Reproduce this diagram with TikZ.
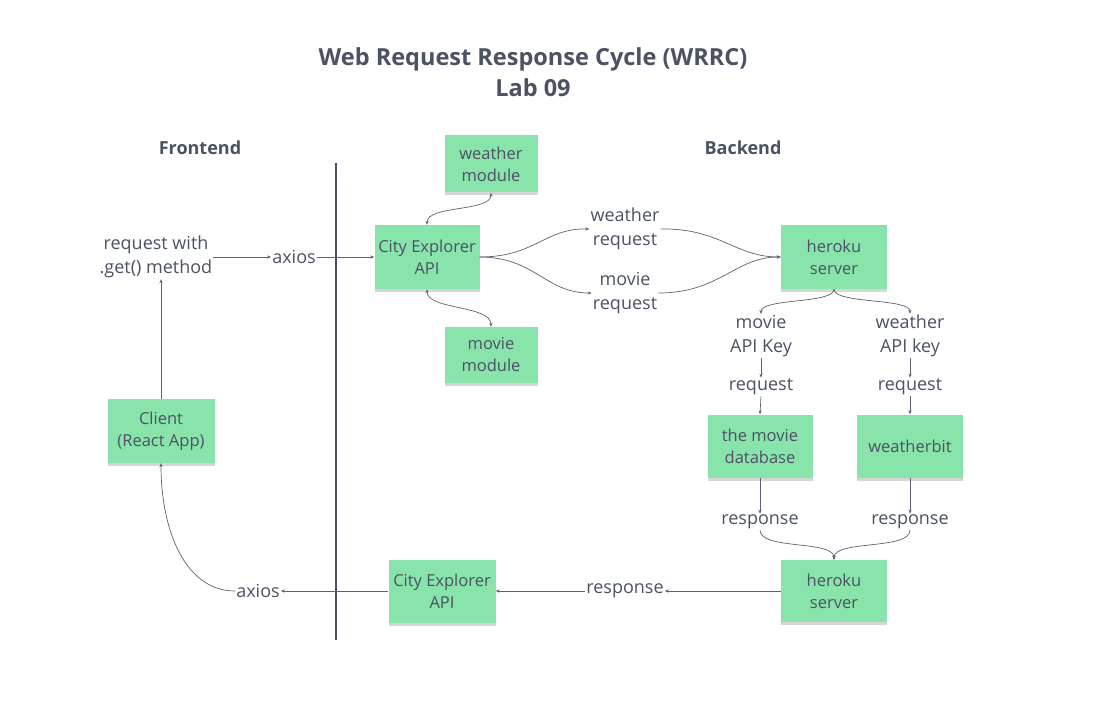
\documentclass[tikz,border=0pt]{standalone}
\usepackage{fontspec}
\setmainfont{Open Sans}
\usetikzlibrary{arrows.meta,shadows,positioning}
\definecolor{txt}{HTML}{4B5263}
\definecolor{ln}{HTML}{5C6272}
\definecolor{boxg}{HTML}{88E4AA}
\tikzset{
  box/.style={fill=boxg, draw=none, inner sep=0pt, align=center, text=txt,
    font=\fontsize{16.5}{22}\selectfont,
    drop shadow={shadow xshift=0pt, shadow yshift=-3pt, opacity=0.16, fill=black}},
  lbl/.style={inner sep=1pt, align=center, text=txt, font=\fontsize{18}{24}\selectfont},
  hdr/.style={inner sep=0pt, text=txt, font=\bfseries\fontsize{18}{22}\selectfont},
  ttl/.style={inner sep=0pt, align=center, text=txt, font=\bfseries\fontsize{23.5}{31}\selectfont},
  conn/.style={draw=ln, line width=0.7pt, -{Stealth[length=4pt,width=3.2pt]}},
  conn2/.style={draw=ln, line width=0.7pt, {Stealth[length=4pt,width=3.2pt]}-{Stealth[length=4pt,width=3.2pt]}},
}
\begin{document}
\begin{tikzpicture}[x=1pt,y=-1pt]
\useasboundingbox[fill=white] (0,0) rectangle (1096,714);

% title and headers
\node[ttl] (title) at (533,72) {Web Request Response Cycle (WRRC)\\Lab 09};
\node[hdr] (front) at (200,148) {Frontend};
\node[hdr] (back) at (743,148) {Backend};

% divider
\coordinate (divtop) at (336,163);
\coordinate (divbot) at (336,640);
\draw[line width=2.6pt, draw=txt] (divtop) -- (divbot);

% boxes
\node[box, minimum width=93pt, minimum height=57pt] (wm) at (491,164) {weather\\module};
\node[box, minimum width=105pt, minimum height=64pt] (ce) at (427,257) {City Explorer\\API};
\node[box, minimum width=93pt, minimum height=56pt] (mm) at (491,355) {movie\\module};
\node[box, minimum width=106pt, minimum height=64pt] (hk) at (834,257) {heroku\\server};
\node[box, minimum width=105pt, minimum height=63pt] (tmdb) at (760,446) {the movie\\database};
\node[box, minimum width=106pt, minimum height=63pt] (wb) at (910,446) {weatherbit};
\node[box, minimum width=107pt, minimum height=64pt] (cl) at (161,431) {Client\\(React App)};
\node[box, minimum width=107pt, minimum height=63pt] (ce2) at (442,591) {City Explorer\\API};
\node[box, minimum width=106pt, minimum height=62pt] (hk2) at (834,591) {heroku\\server};

% labels
\node[lbl] (rw) at (156,257) {request with\\.get() method};
\node[lbl] (ax1) at (294,257) {axios};
\node[lbl] (wr) at (625,229) {weather\\request};
\node[lbl] (mr) at (625,293) {movie\\request};
\node[lbl] (mk) at (761,336) {movie\\API Key};
\node[lbl] (wk) at (910,336) {weather\\API key};
\node[lbl] (rq1) at (761,387) {request};
\node[lbl] (rq2) at (910,387) {request};
\node[lbl] (rs1) at (760,522) {response};
\node[lbl] (rs2) at (910,522) {response};
\node[lbl] (rs3) at (625,591) {response};
\node[lbl] (ax2) at (258,591) {axios};

% connectors
\draw[conn] (rw.east) -- (ax1.west);
\draw[conn] (ax1.east) -- (ce.west);
\draw[conn] (cl.north) -- (cl.north |- rw.south);
\draw[conn2] (ce.north) .. controls (427,205) and (491,212) .. (wm.south);
\draw[conn2] (ce.south) .. controls (427,310) and (491,305) .. (mm.north);
\draw[conn] (ce.east) .. controls (535,257) and (545,228) .. (wr.west);
\draw[conn] (ce.east) .. controls (535,257) and (545,293) .. (mr.west);
\draw[conn] (wr.east) .. controls (720,228) and (735,257) .. (hk.west);
\draw[conn] (mr.east) .. controls (720,293) and (735,257) .. (hk.west);
\draw[conn] (hk.south) .. controls (834,304) and (761,298) .. (mk.north);
\draw[conn] (hk.south) .. controls (834,304) and (910,298) .. (wk.north);
\draw[conn] (mk.south) -- (rq1.north);
\draw[conn] (wk.south) -- (rq2.north);
\draw[conn] (rq1.south) -- (tmdb.north);
\draw[conn] (rq2.south) -- (wb.north);
\draw[conn] (tmdb.south) -- (rs1.north);
\draw[conn] (wb.south) -- (rs2.north);
\draw[conn] (rs1.south) .. controls (760,550) and (834,540) .. (hk2.north);
\draw[conn] (rs2.south) .. controls (910,550) and (834,540) .. (hk2.north);
\draw[conn] (hk2.west) -- (rs3.east);
\draw[conn] (rs3.west) -- (ce2.east);
\draw[conn] (ce2.west) -- (ax2.east);
\draw[conn] (ax2.west) .. controls (185,591) and (161,530) .. (cl.south);
\end{tikzpicture}
\end{document}
